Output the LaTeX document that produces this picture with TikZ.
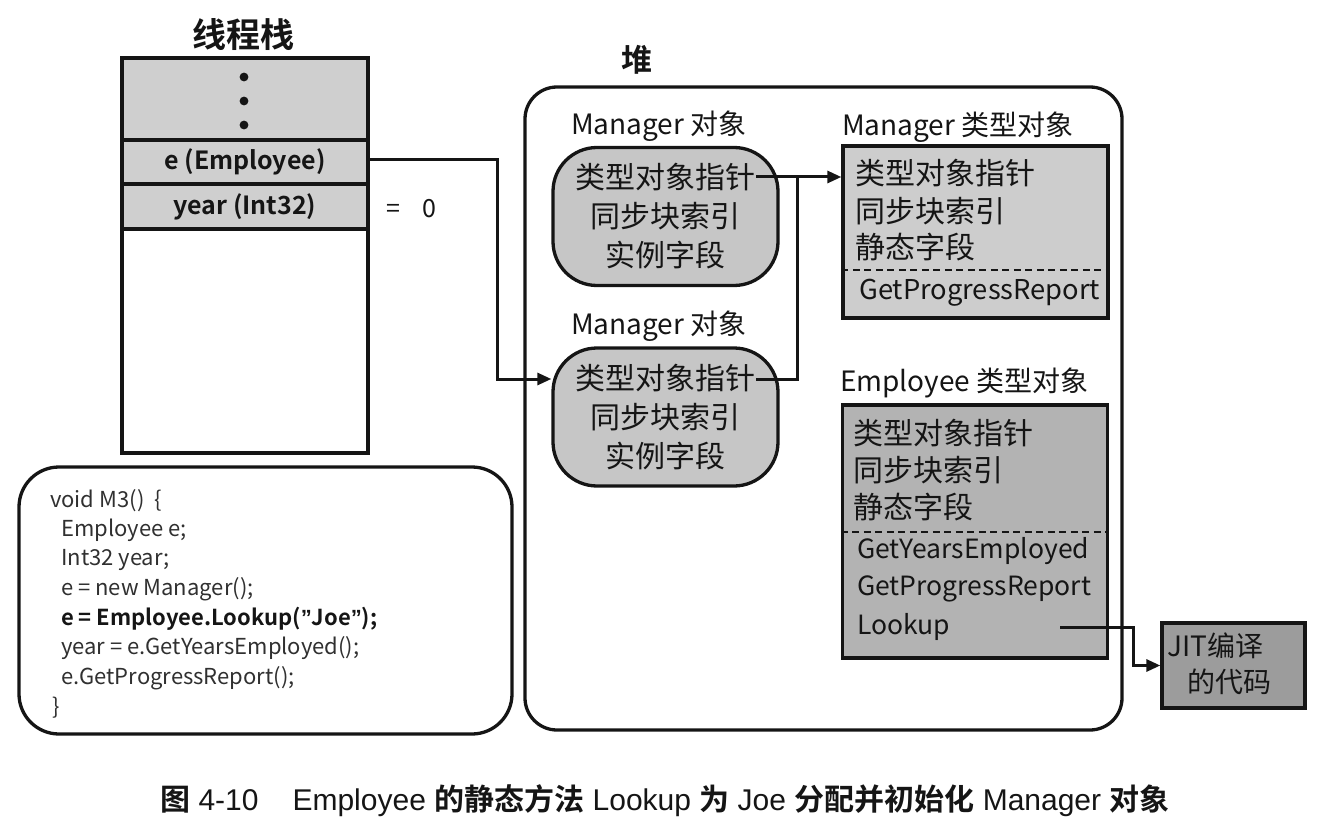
\documentclass[tikz,border=0pt]{standalone}
\usepackage{fontspec}
\setmainfont{Noto Sans CJK SC}[BoldFont={Noto Sans CJK SC Bold}]
\newfontfamily\caplat{Liberation Sans}
\newfontfamily\capzh{Noto Sans CJK SC}[BoldFont={Noto Sans CJK SC Bold}]
\usetikzlibrary{arrows.meta,calc}

\definecolor{ink}{HTML}{151515}
\definecolor{codeink}{HTML}{303030}
\definecolor{stackgray}{HTML}{CFCFCF}
\definecolor{objgray}{HTML}{C6C6C6}
\definecolor{mtgray}{HTML}{CDCDCD}
\definecolor{etgray}{HTML}{B3B3B3}
\definecolor{jitgray}{HTML}{9C9C9C}

\newcommand{\fs}[2]{\fontsize{#1}{#2}\selectfont}
% a narrow closing quote taken from the Latin face
\newcommand{\dq}{{\caplat\bfseries ”}}

\tikzset{
  frame/.style={draw=ink, line width=3.3pt},
  cell/.style={frame, fill=stackgray, minimum width=246pt, inner sep=0pt,
               font=\fs{25}{30}\bfseries, text=ink},
  objbox/.style={frame, fill=objgray, rounded corners=44pt, minimum width=225pt,
                 minimum height=138pt, inner sep=0pt, align=center,
                 font=\fs{30}{39}, text=ink},
  typebox/.style={frame, minimum width=265pt, inner sep=0pt},
  label/.style={inner sep=0pt, anchor=west, font=\fs{28}{32}, text=ink},
  line/.style={inner sep=0pt, anchor=west, text=ink},
  zh/.style={font=\fs{30}{34}},
  meth/.style={font=\fs{27.3}{32}},
  smeth/.style={font=\fs{26.5}{32}},
  codeline/.style={inner sep=0pt, anchor=west, font=\fs{22}{28}, text=codeink},
  conn/.style={draw=ink, line width=3pt, -{Triangle[length=14pt,width=12pt]}},
  sep/.style={draw=ink, line width=2.6pt, dash pattern=on 7pt off 4.5pt},
}

\begin{document}
\begin{tikzpicture}[x=1pt, y=-1pt]
\useasboundingbox (0,0) rectangle (1320,829);

% ---------- thread stack ----------
\node[inner sep=0pt, font=\fs{34}{38}\bfseries, text=ink] (stacktitle) at (243,35) {线程栈};
\node[frame, minimum width=246pt, minimum height=395pt, inner sep=0pt] (stack) at (245,255.5) {};
\node[cell, minimum height=82pt] (dots) at (245,99) {};
\foreach \yy in {77,101,125}
  \fill[ink] (244,\yy) circle (4.4pt);
\node[cell, minimum height=44pt] (erow) at (245,162) {e (Employee)};
\node[cell, minimum height=45pt] (yrow) at (245,206.5) {year (Int32)};
\node[inner sep=0pt, font=\fs{25}{30}, text=ink] (yval) at (411,209) {=\hspace{22pt}0};

% ---------- code ----------
\node[frame, rounded corners=40pt, minimum width=493pt, minimum height=267pt, inner sep=0pt] (code) at (265.5,600.5) {};
\node[codeline] (c1) at (50,501)   {void M3()\ \ \{};
\node[codeline] (c2) at (61,530.5) {Employee e;};
\node[codeline] (c3) at (61,560)   {Int32 year;};
\node[codeline] (c4) at (61,589.5) {e = new Manager();};
\node[codeline, font=\fs{22}{28}\bfseries, text=ink] (c5) at (61,619) {e = Employee.Lookup(\dq Joe\dq);};
\node[codeline] (c6) at (61,648.5) {year = e.GetYearsEmployed();};
\node[codeline] (c7) at (61,678)   {e.GetProgressReport();};
\node[codeline] (c8) at (52,707.5) {\}};

% ---------- heap ----------
\node[inner sep=0pt, font=\fs{31}{34}\bfseries, text=ink] (heaptitle) at (637,60) {堆};
\node[frame, rounded corners=32pt, minimum width=597pt, minimum height=643pt, inner sep=0pt] (heap) at (823.5,408.5) {};

% Manager objects
\node[label] (m1lab) at (571,126) {Manager 对象};
\node[objbox] (obj1) at (665.5,216.5) {类型对象指针\\同步块索引\\实例字段};
\node[label] (m2lab) at (571,326) {Manager 对象};
\node[objbox] (obj2) at (665.5,417) {类型对象指针\\同步块索引\\实例字段};
\coordinate (p1) at (756,177);
\coordinate (p2) at (756,379);

% Manager type object
\node[label] (mtlab) at (842,127) {Manager 类型对象};
\node[typebox, fill=mtgray, minimum height=172pt] (mtype) at (975.5,232) {};
\node[line, zh] (mt1) at (855,173) {类型对象指针};
\node[line, zh] (mt2) at (855,211) {同步块索引};
\node[line, zh] (mt3) at (855,247) {静态字段};
\draw[sep] (mtype.west |- 0,270) -- (mtype.east |- 0,270);
\node[line, meth] (mt4) at (859,293) {GetProgressReport};

% Employee type object
\node[label] (etlab) at (840,383) {Employee 类型对象};
\node[typebox, fill=etgray, minimum height=253pt] (etype) at (975,531.5) {};
\node[line, zh] (et1) at (853,433) {类型对象指针};
\node[line, zh] (et2) at (853,470) {同步块索引};
\node[line, zh] (et3) at (853,507) {静态字段};
\draw[sep] (etype.west |- 0,532) -- (etype.east |- 0,532);
\node[line, smeth] (et4) at (857,551) {GetYearsEmployed};
\node[line, smeth] (et5) at (857,589) {GetProgressReport};
\node[line, smeth] (et6) at (857,627) {Lookup};
\coordinate (lk) at (1060,627);

% JIT compiled code
\node[frame, fill=jitgray, minimum width=143pt, minimum height=85pt, inner sep=0pt] (jit) at (1233.5,665.5) {};
\node[inner sep=0pt, anchor=west, align=left, font=\fs{28}{36}, text=ink] (jittext) at (1167,664) {JIT编译\\\hspace*{20pt}的代码};

% ---------- connectors ----------
\draw[conn] (erow.east |- 0,160) -- (497,160) |- (obj2.west |- p2);
\draw[conn] (p1) -- (mtype.west |- p1);
\draw[draw=ink, line width=3pt] (p2) -- (797,379) -- (797,177);
\draw[conn] (lk) -- (1133,627) |- (jit.west);

% ---------- caption ----------
\node[inner sep=0pt, anchor=west, font=\caplat\fs{30}{34}, text=ink] (caption) at (160,801)
  {{\capzh\bfseries\fs{30}{34}图} 4-10\hspace{34pt}Employee {\capzh\bfseries\fs{30}{34}的静态方法} Lookup {\capzh\bfseries\fs{30}{34}为} Joe {\capzh\bfseries\fs{30}{34}分配并初始化} Manager {\capzh\bfseries\fs{30}{34}对象}};
\end{tikzpicture}
\end{document}
